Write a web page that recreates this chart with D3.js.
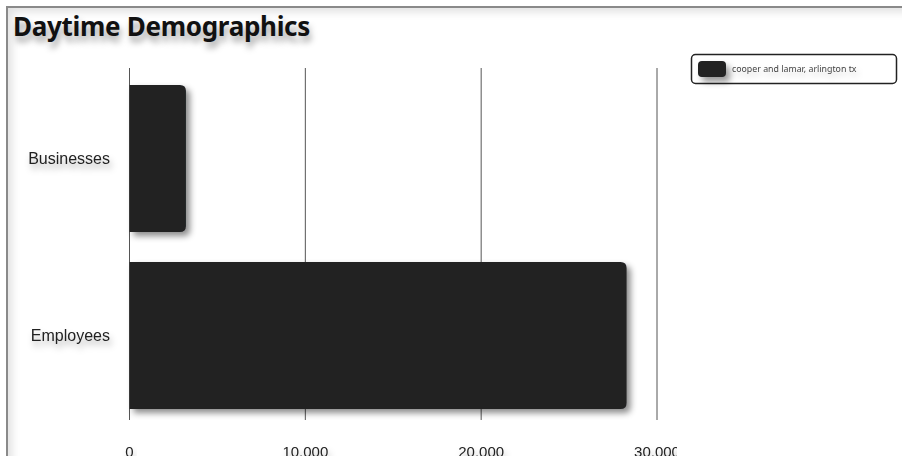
<!DOCTYPE html>
<html><head><meta charset="utf-8">
<script src="https://cdn.jsdelivr.net/npm/d3@7"></script>
<style>
html,body{margin:0;padding:0;background:#fff;overflow:hidden;width:902px;height:456px;}
#frame{position:absolute;left:6px;top:6px;width:1000px;height:600px;border-left:2px solid #8a8a8a;border-top:2px solid #8a8a8a;box-shadow:inset 4px 4px 8px rgba(0,0,0,0.12);}
#title{position:absolute;left:13px;top:8px;font-family:"Noto Sans",Lato,sans-serif;font-weight:700;font-size:26px;color:#111;text-shadow:2px 6px 6px rgba(0,0,0,0.35);letter-spacing:-0.3px;}
svg{position:absolute;left:0;top:0;}
</style></head>
<body>
<div id="frame"></div>
<div id="title">Daytime Demographics</div>
<svg id="chart" width="677" height="456"></svg>
<svg id="legend" width="902" height="456" style="pointer-events:none"></svg>
<script>
const categories = ["Businesses", "Employees"];
const values = [3210, 28270];
const ticks = [0, 10000, 20000, 30000];
const seriesName = "cooper and lamar, arlington tx";

const svg = d3.select("#chart");
const defs = svg.append("defs");
const f = defs.append("filter").attr("id","ds").attr("x","-20%").attr("y","-20%").attr("width","140%").attr("height","140%");
f.append("feDropShadow").attr("dx",4).attr("dy",4).attr("stdDeviation",3).attr("flood-color","#000").attr("flood-opacity",0.45);
const ts = defs.append("filter").attr("id","ts").attr("x","-30%").attr("y","-50%").attr("width","160%").attr("height","220%");
ts.append("feDropShadow").attr("dx",2).attr("dy",5).attr("stdDeviation",3).attr("flood-color","#000").attr("flood-opacity",0.3);

const x = d3.scaleLinear().domain([0,30000]).range([129.5,657]);
const y = d3.scaleBand().domain(categories).range([70,424]).paddingInner(0.17).paddingOuter(0.085);

// gridlines
svg.append("g").selectAll("line").data(ticks).join("line")
  .attr("x1",d=>x(d)).attr("x2",d=>x(d)).attr("y1",68).attr("y2",420)
  .attr("stroke","#555").attr("stroke-width",1);

// bars with rounded right corners
const r = 6;
svg.append("g").selectAll("path").data(categories).join("path")
  .attr("d",(c,i)=>{
    const x0 = x(0), x1 = x(values[i]), y0 = y(c), h = y.bandwidth();
    return `M${x0},${y0}H${x1-r}Q${x1},${y0} ${x1},${y0+r}V${y0+h-r}Q${x1},${y0+h} ${x1-r},${y0+h}H${x0}Z`;
  })
  .attr("fill","#202124").attr("filter","url(#ds)");

// category labels
svg.append("g").selectAll("text").data(categories).join("text")
  .attr("x",110).attr("y",c=>y(c)+y.bandwidth()/2+5)
  .attr("text-anchor","end").attr("font-family","'Liberation Sans',Arial,sans-serif")
  .attr("font-size",16).attr("fill","#222").attr("filter","url(#ts)").text(c=>c);

// tick labels
const fmt = d3.format(",");
svg.append("g").selectAll("text").data(ticks).join("text")
  .attr("x",d=>x(d)).attr("y",456.5).attr("text-anchor","middle")
  .attr("font-family","'Liberation Sans',Arial,sans-serif").attr("font-size",15)
  .attr("fill","#222").attr("filter","url(#ts)").text(d=>fmt(d));

// legend
const lg = d3.select("#legend");
const ld = lg.append("defs");
const lf = ld.append("filter").attr("id","lds").attr("x","-30%").attr("y","-30%").attr("width","180%").attr("height","200%");
lf.append("feDropShadow").attr("dx",4).attr("dy",5).attr("stdDeviation",3).attr("flood-color","#000").attr("flood-opacity",0.4);
const lt = ld.append("filter").attr("id","lts").attr("x","-10%").attr("y","-50%").attr("width","120%").attr("height","250%");
lt.append("feDropShadow").attr("dx",2).attr("dy",4).attr("stdDeviation",3).attr("flood-color","#000").attr("flood-opacity",0.2);
lg.append("rect").attr("x",691.5).attr("y",54.5).attr("width",205).attr("height",29).attr("rx",4)
  .attr("fill","#fff").attr("stroke","#222").attr("stroke-width",1.5);
lg.append("rect").attr("x",698).attr("y",61).attr("width",28).attr("height",16).attr("rx",4)
  .attr("fill","#202124").attr("filter","url(#lds)");
lg.append("text").attr("x",732).attr("y",72).attr("font-family","'Noto Sans',Lato,sans-serif")
  .attr("font-size",8.8).attr("fill","#444").attr("filter","url(#lts)").text(seriesName);
</script>
</body></html>
